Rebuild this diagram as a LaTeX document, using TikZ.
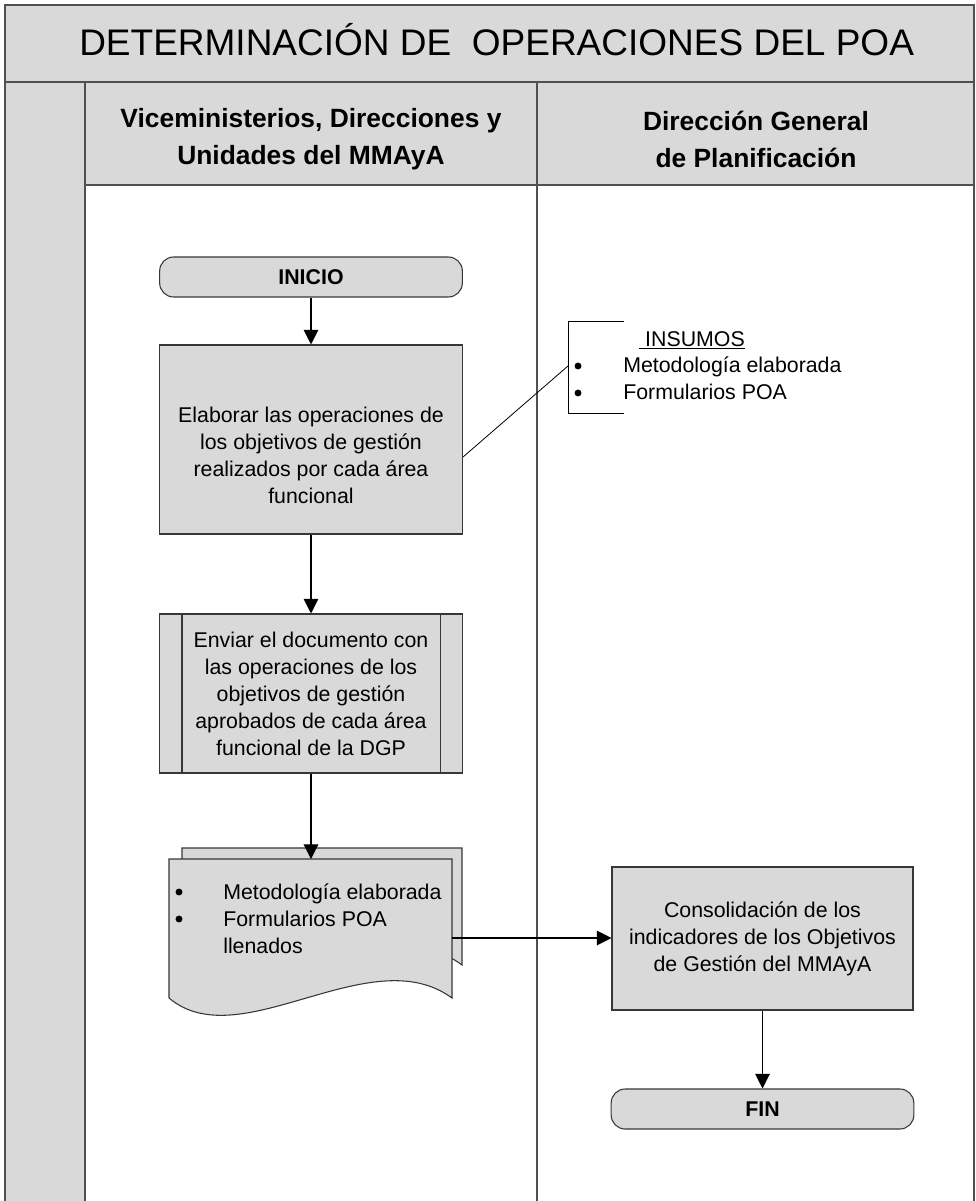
\documentclass[tikz,border=0pt]{standalone}
\usepackage{fontspec}
\setmainfont{Liberation Sans}
\usetikzlibrary{arrows.meta}
\definecolor{panelgray}{RGB}{217,217,217}
\definecolor{rulegray}{RGB}{80,80,80}
\definecolor{edgegray}{RGB}{55,55,55}

\begin{document}
\begin{tikzpicture}[x=0.75pt,y=-0.75pt,
  frame/.style={draw=rulegray,line width=1.4pt},
  figbox/.style={draw=edgegray,fill=panelgray,line width=0.8pt},
  procbox/.style={figbox,inner sep=0pt,align=center,
    font=\fontsize{16}{20.25}\selectfont},
  termbox/.style={figbox,inner sep=0pt,rounded corners=10.5pt,
    minimum width=227pt,minimum height=30pt,
    font=\fontsize{16}{20}\selectfont\bfseries},
  bodytext/.style={inner sep=0pt,align=center,
    font=\fontsize{16}{20.25}\selectfont},
  listtext/.style={inner sep=0pt,anchor=base west,
    font=\fontsize{16}{20.25}\selectfont},
  dot/.style={circle,fill=black,inner sep=0pt,minimum size=5.2pt},
  headtext/.style={inner sep=0pt,align=center,
    font=\fontsize{19.8}{27.75}\selectfont\bfseries},
  flow/.style={draw=black,line width=0.8pt,
    -{Triangle[length=11pt,width=11pt]}},
  plainline/.style={draw=black,line width=0.6pt}]

\useasboundingbox (0,0) rectangle (975,1201);
\fill[white] (0,0) rectangle (975,1201);

% title band, header row and left margin column
\fill[panelgray] (5,5) rectangle (974,82);
\fill[panelgray] (5,82) rectangle (85,1201);
\fill[panelgray] (85,82) rectangle (974,185);
\draw[frame] (5,1201) -- (5,5) -- (974,5) -- (974,1201);
\draw[frame] (5,82) -- (974,82);
\draw[frame] (85,82) -- (85,1201);
\draw[frame] (85,185) -- (974,185);
\draw[frame] (537,82) -- (537,1201);

\node[inner sep=0pt,anchor=base west,font=\fontsize{27.75}{30}\selectfont]
  (title) at (79,56) {DETERMINACIÓN DE\ \ OPERACIONES DEL POA};
\node[headtext] (lane1) at (311,139.5) {Viceministerios, Direcciones y\\Unidades del MMAyA};
\node[headtext] (lane2) at (756,139.5) {Dirección General\\de Planificación};

% left lane
\node[termbox] (inicio) at (311,277) {INICIO};

\node[procbox,minimum width=227.25pt,minimum height=141.75pt] (elab) at (311,439.5) {};
\node[bodytext] (elabtxt) at (311,455)
  {Elaborar las operaciones de\\los objetivos de gestión\\realizados por cada área\\funcional};

\node[procbox,minimum width=227.25pt,minimum height=119.25pt] (enviar) at (311,693.5)
  {Enviar el documento con\\las operaciones de los\\objetivos de gestión\\aprobados de cada área\\funcional de la DGP};
\draw[draw=edgegray,line width=0.8pt]
  ([xshift=17.25pt]enviar.north west) -- ([xshift=17.25pt]enviar.south west)
  ([xshift=-17.25pt]enviar.north east) -- ([xshift=-17.25pt]enviar.south east);

% stacked document
\draw[figbox] (182,965) -- (182,848) -- (462,848) -- (462,965)
  .. controls (383,905) and (253,1025) .. (182,965);
\draw[figbox] (169,998) -- (169,859) -- (452,859) -- (452,998)
  .. controls (370,938) and (240,1058) .. (169,998);
\coordinate (docin) at (311,859);
\coordinate (docout) at (452,938);
\node[dot] (b1) at (179,892) {};
\node[listtext] (d1) at (223,899) {Metodología elaborada};
\node[dot] (b2) at (179,919) {};
\node[listtext] (d2) at (223,926) {Formularios POA};
\node[listtext] (d3) at (223,953) {llenados};

% inputs annotation
\coordinate (brk) at (568,366);
\draw[plainline] (624,321) -- (568,321) -- (568,413) -- (624,413);
\node[listtext] (insumos) at (639,346.5) {\underline{\ INSUMOS}};
\node[dot] (i1) at (578,366) {};
\node[listtext] (it1) at (623,372.5) {Metodología elaborada};
\node[dot] (i2) at (578,393) {};
\node[listtext] (it2) at (623,399.5) {Formularios POA};
\draw[plainline] ([yshift=-13.125pt]elab.east) -- (brk);

% right lane
\node[procbox,minimum width=225.75pt,minimum height=107.25pt] (consol) at (762.5,938.5)
  {Consolidación de los\\indicadores de los Objetivos\\de Gestión del MMAyA};
\node[termbox] (fin) at (762.5,1109) {FIN};

% connectors
\draw[flow] (inicio.south) -- (elab.north);
\draw[flow] (elab.south) -- (enviar.north);
\draw[flow] (enviar.south) -- (docin);
\draw[flow] (docout) -- (consol.west |- docout);
\draw[flow] (consol.south) -- (fin.north);
\end{tikzpicture}
\end{document}
